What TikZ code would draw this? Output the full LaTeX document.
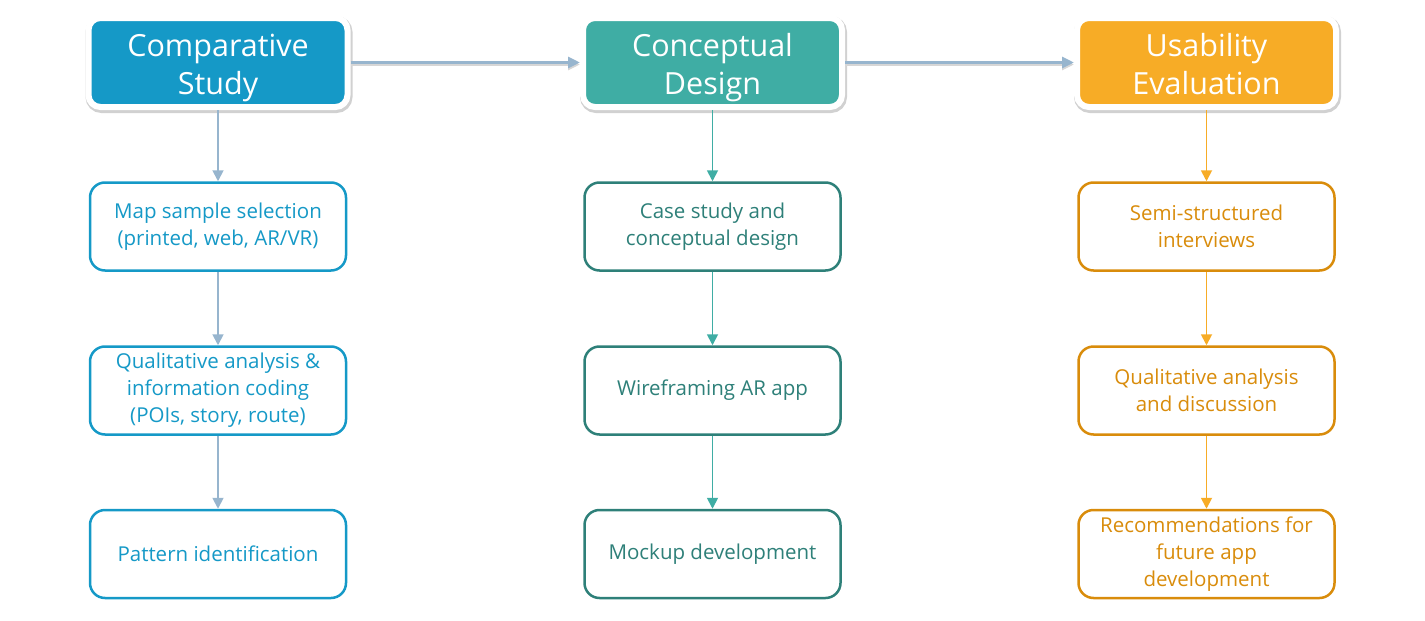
\documentclass[tikz,border=0pt]{standalone}
\usepackage{fontspec}
\setmainfont{Open Sans}
\usetikzlibrary{arrows.meta}
\definecolor{cBlue}{HTML}{1599C7}
\definecolor{cTeal}{HTML}{3FADA4}
\definecolor{cOrange}{HTML}{F7AC26}
\definecolor{cDarkTeal}{HTML}{2E8079}
\definecolor{cDarkOrange}{HTML}{D98C0B}
\definecolor{cLink}{HTML}{97B5CE}
\newcommand{\headtop}{\rule{0pt}{34pt}}
\newcommand{\headbot}{\rule[-8pt]{0pt}{8pt}}
\begin{document}
\begin{tikzpicture}[x=1pt,y=-1pt]
\tikzstyle{Head} = [draw=white, line width=6, rounded corners=12, minimum width=259, minimum height=89, text=white, font={\fontsize{30.5}{38}\selectfont}, align=center, preaction={draw=black!18, fill=black!18, line width=8, transform canvas={xshift=1, yshift=-2}}]
\tikzstyle{Block} = [line width=2.5, rounded corners=15, fill=white, minimum width=256, minimum height=88, font={\fontsize{20.5}{27}\selectfont}, align=center]
\tikzstyle{Link} = [-{Triangle[length=12,width=11]}, line width=3.5, cLink, preaction={draw=black!16, line width=3.5, transform canvas={yshift=-2}}]
\tikzstyle{Step} = [-{Triangle[length=11,width=11]}, line width=1.8]
\useasboundingbox (0,0) rectangle (1425,621);
\node [Head, fill=cBlue] (v1) at (218,62.5) {\headtop Comparative\\\headbot Study};
\node [Head, fill=cTeal] (v2) at (712.5,62.5) {\headtop Conceptual\\\headbot Design};
\node [Head, fill=cOrange] (v3) at (1206.5,62.5) {\headtop Usability\\\headbot Evaluation};
\node [Block, draw=cBlue, text=cBlue] (v4) at (218,226.5) {Map sample selection\\(printed, web, AR/VR)};
\node [Block, draw=cBlue, text=cBlue] (v5) at (218,390.5) {Qualitative analysis \&\\information coding\\(POIs, story, route)};
\node [Block, draw=cBlue, text=cBlue] (v6) at (218,554) {Pattern identification};
\node [Block, draw=cDarkTeal, text=cDarkTeal] (v7) at (712.5,226.5) {Case study and\\conceptual design};
\node [Block, draw=cDarkTeal, text=cDarkTeal] (v8) at (712.5,390.5) {Wireframing AR app};
\node [Block, draw=cDarkTeal, text=cDarkTeal] (v9) at (712.5,554) {Mockup development};
\node [Block, draw=cDarkOrange, text=cDarkOrange] (v10) at (1206.5,226.5) {Semi-structured\\interviews};
\node [Block, draw=cDarkOrange, text=cDarkOrange] (v11) at (1206.5,390.5) {Qualitative analysis\\and discussion};
\node [Block, draw=cDarkOrange, text=cDarkOrange] (v12) at (1206.5,554) {Recommendations for\\future app\\development};
\draw [Link] (v1) -- (v2);
\draw [Link] (v2) -- (v3);
\draw [Step, cLink] (v1) -- (v4);
\draw [Step, cLink] (v4) -- (v5);
\draw [Step, cLink] (v5) -- (v6);
\draw [Step, cTeal] (v2) -- (v7);
\draw [Step, cTeal] (v7) -- (v8);
\draw [Step, cTeal] (v8) -- (v9);
\draw [Step, cOrange] (v3) -- (v10);
\draw [Step, cOrange] (v10) -- (v11);
\draw [Step, cOrange] (v11) -- (v12);
\end{tikzpicture}
\end{document}
